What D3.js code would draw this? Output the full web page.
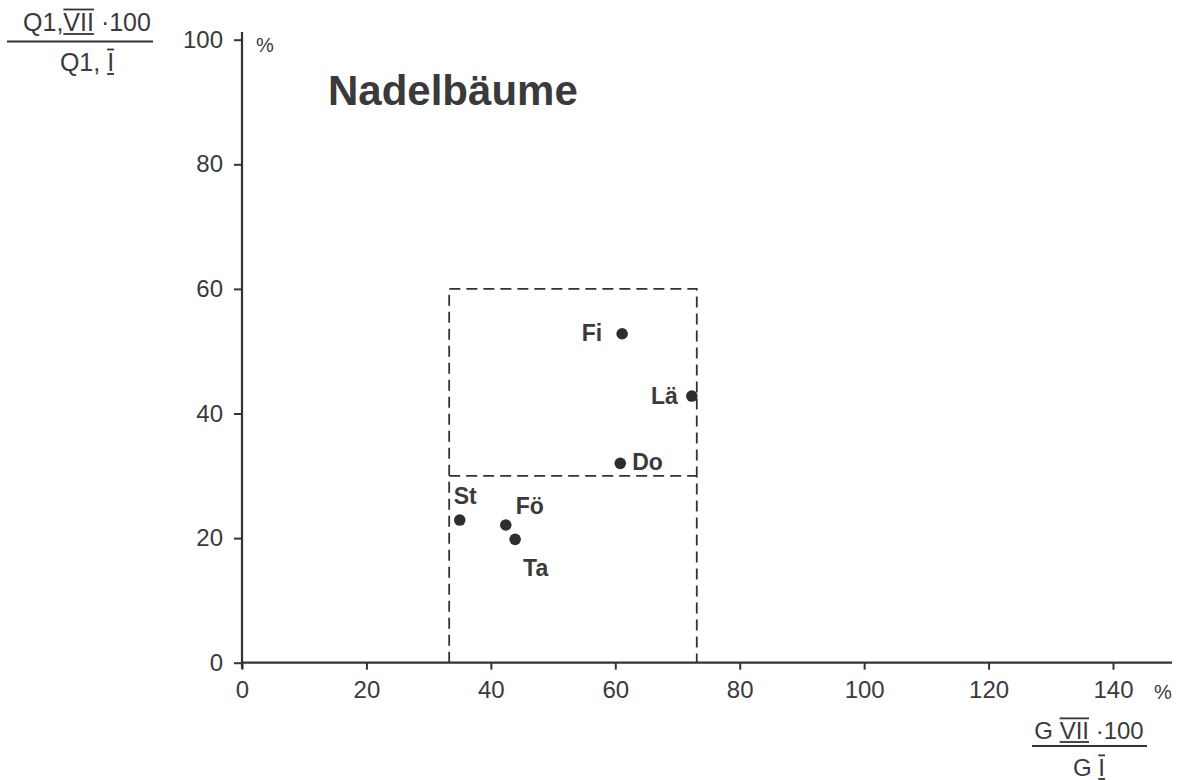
<!DOCTYPE html>
<html><head><meta charset="utf-8">
<script src="https://cdn.jsdelivr.net/npm/d3@7"></script>
<style>
html,body{margin:0;padding:0;background:#fff;}
svg{display:block;}
text{font-family:"Liberation Sans",Arial,Helvetica,sans-serif;fill:#3a3a3a;}
</style></head>
<body>
<svg id="chart" width="1181" height="780"></svg>
<script>
// ---- data ----
const species = ["Fi", "Lä", "Do", "St", "Fö", "Ta"];
const xValues = [61.1, 72.3, 60.8, 35.0, 42.4, 43.9];   // G VII·100 / G I  (%)
const yValues = [52.8, 42.8, 32.0, 22.9, 22.1, 19.8];   // Q1,VII·100 / Q1,I (%)
const labelPos = ["farLeft", "left", "right", "above", "aboveRight", "belowRight"];
const xTicks = [0, 20, 40, 60, 80, 100, 120, 140];
const yTicks = [0, 20, 40, 60, 80, 100];
const boxX = [33.3, 73.1];
const boxY = [0, 60];
const boxMid = 30;
const title = "Nadelbäume";

const svg = d3.select("#chart");
const ink = "#333";
const x = d3.scaleLinear().domain([0, 140]).range([242, 1113]);
const y = d3.scaleLinear().domain([0, 100]).range([662.7, 39.7]);

// axes lines
svg.append("line").attr("x1", x(0)).attr("x2", 1172).attr("y1", y(0)).attr("y2", y(0))
  .attr("stroke", ink).attr("stroke-width", 2.2);
svg.append("line").attr("x1", x(0)).attr("x2", x(0)).attr("y1", y(0) + 6).attr("y2", 32)
  .attr("stroke", ink).attr("stroke-width", 2.2);

// x axis
const xa = svg.append("g").attr("transform", `translate(0,${y(0)})`)
  .call(d3.axisBottom(x).tickValues(xTicks).tickSize(7).tickPadding(11).tickFormat(d3.format("d")));
xa.select(".domain").remove();
xa.selectAll(".tick line").attr("stroke", ink).attr("stroke-width", 2);
xa.selectAll(".tick text").attr("font-size", 24).attr("font-family", "Liberation Sans, Arial, sans-serif").attr("fill", "#3a3a3a");
svg.append("text").attr("x", 1163).attr("y", 699).attr("text-anchor", "middle").attr("font-size", 20).text("%");

// y axis
const ya = svg.append("g").attr("transform", `translate(${x(0)},0)`)
  .call(d3.axisLeft(y).tickValues(yTicks).tickSize(8).tickPadding(11).tickFormat(d3.format("d")));
ya.select(".domain").remove();
ya.selectAll(".tick line").attr("stroke", ink).attr("stroke-width", 2);
ya.selectAll(".tick text").attr("font-size", 24).attr("font-family", "Liberation Sans, Arial, sans-serif").attr("fill", "#3a3a3a");
svg.append("text").attr("x", 265).attr("y", 52).attr("text-anchor", "middle").attr("font-size", 20).text("%");

// dashed box
const dash = "11,6";
const boxPath = d3.path();
boxPath.moveTo(x(boxX[0]), y(boxY[0]));
boxPath.lineTo(x(boxX[0]), y(boxY[1]));
boxPath.lineTo(x(boxX[1]), y(boxY[1]));
boxPath.lineTo(x(boxX[1]), y(boxY[0]));
svg.append("path").attr("d", boxPath.toString()).attr("fill", "none")
  .attr("stroke", ink).attr("stroke-width", 1.8).attr("stroke-dasharray", dash);
svg.append("line").attr("x1", x(boxX[0])).attr("x2", x(boxX[1])).attr("y1", y(boxMid)).attr("y2", y(boxMid))
  .attr("stroke", ink).attr("stroke-width", 1.8).attr("stroke-dasharray", dash);

// points
const pts = species.map((s, i) => ({ s, x: xValues[i], y: yValues[i], p: labelPos[i] }));
svg.append("g").selectAll("circle").data(pts).join("circle")
  .attr("cx", d => x(d.x)).attr("cy", d => y(d.y)).attr("r", 5.8).attr("fill", "#2e2e2e");

const off = {
  farLeft: [-20, 7, "end"],
  left: [-14, 8, "end"],
  right: [12, 7, "start"],
  above: [-6, -16, "start"],
  aboveRight: [10, -11, "start"],
  belowRight: [8, 37, "start"]
};
svg.append("g").selectAll("text").data(pts).join("text")
  .attr("x", d => x(d.x) + off[d.p][0]).attr("y", d => y(d.y) + off[d.p][1])
  .attr("text-anchor", d => off[d.p][2])
  .attr("font-size", 23).attr("font-weight", "bold").text(d => d.s);

// title
svg.append("text").attr("x", 328).attr("y", 105).attr("font-size", 42).attr("font-weight", "bold")
  .attr("fill", "#3a3a3a").text(title);

// fraction labels helper
function frac(parts, cx, numY, lineY, denParts, denY, lineX1, lineX2, fs) {
  function row(ps, baseY) {
    const g = svg.append("g");
    const t = g.append("text").attr("y", baseY).attr("font-size", fs);
    ps.forEach(p => t.append("tspan").text(p.t).attr("data-o", p.over ? 1 : 0).attr("data-u", p.under ? 1 : 0));
    const w = t.node().getComputedTextLength();
    const x0 = cx - w / 2;
    t.attr("x", x0);
    let acc = x0;
    t.selectAll("tspan").each(function () {
      const n = this;
      const len = n.getComputedTextLength();
      if (n.getAttribute("data-o") === "1") {
        g.append("line").attr("x1", acc).attr("x2", acc + len).attr("y1", baseY - fs * 0.86).attr("y2", baseY - fs * 0.86)
          .attr("stroke", ink).attr("stroke-width", 1.8);
      }
      if (n.getAttribute("data-u") === "1") {
        g.append("line").attr("x1", acc).attr("x2", acc + len).attr("y1", baseY + 3).attr("y2", baseY + 3)
          .attr("stroke", ink).attr("stroke-width", 1.8);
      }
      acc += len;
    });
  }
  row(parts, numY);
  svg.append("line").attr("x1", lineX1).attr("x2", lineX2).attr("y1", lineY).attr("y2", lineY)
    .attr("stroke", ink).attr("stroke-width", 1.8);
  row(denParts, denY);
}

frac([{ t: "Q1," }, { t: "VII", over: true, under: true }, { t: " ·100" }], 87, 31, 41.5,
  [{ t: "Q1, " }, { t: "I", over: true, under: true }], 71, 7, 153, 25);
frac([{ t: "G " }, { t: "VII", over: true, under: true }, { t: " ·100" }], 1089, 739, 746,
  [{ t: "G " }, { t: "I", over: true, under: true }], 776, 1032, 1147, 24);
</script>
</body></html>
